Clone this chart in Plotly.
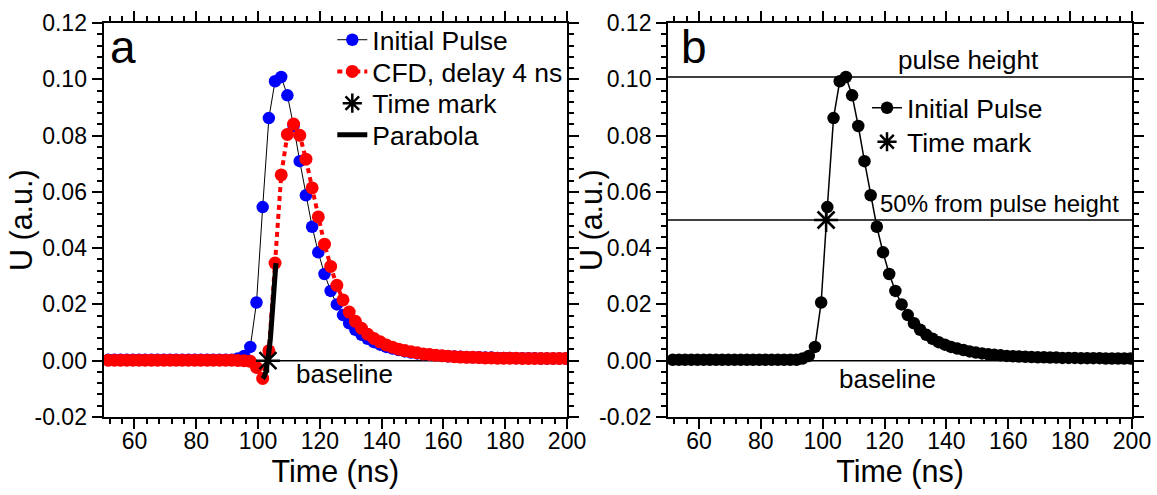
import plotly.graph_objects as go

# ---------------- data ----------------
time_ns = [51.5, 53.5, 55.5, 57.5, 59.5, 61.5, 63.5, 65.5, 67.5, 69.5,
           71.5, 73.5, 75.5, 77.5, 79.5, 81.5, 83.5, 85.5, 87.5, 89.5,
           91.5, 93.5, 95.5, 97.5, 99.5, 101.5, 103.5, 105.5, 107.5, 109.5,
           111.5, 113.5, 115.5, 117.5, 119.5, 121.5, 123.5, 125.5, 127.5, 129.5,
           131.5, 133.5, 135.5, 137.5, 139.5, 141.5, 143.5, 145.5, 147.5, 149.5,
           151.5, 153.5, 155.5, 157.5, 159.5, 161.5, 163.5, 165.5, 167.5, 169.5,
           171.5, 173.5, 175.5, 177.5, 179.5, 181.5, 183.5, 185.5, 187.5, 189.5,
           191.5, 193.5, 195.5, 197.5, 199.5]

initial_pulse = [0.0003, 0.0003, 0.0003, 0.0003, 0.0003, 0.0003, 0.0003, 0.0003, 0.0003, 0.0003,
                 0.0003, 0.0003, 0.0003, 0.0003, 0.0003, 0.0003, 0.0003, 0.0003, 0.0003, 0.0003,
                 0.0003, 0.0008, 0.0017, 0.0049, 0.0207, 0.0546, 0.0862, 0.0993, 0.1008, 0.0943,
                 0.0834, 0.0709, 0.0588, 0.0476, 0.0385, 0.0308, 0.0248, 0.0200, 0.0162, 0.0133,
                 0.0110, 0.0092, 0.0078, 0.0066, 0.0057, 0.0049, 0.0043, 0.0038, 0.0033, 0.0029,
                 0.0026, 0.0023, 0.0021, 0.0019, 0.0017, 0.0016, 0.0015, 0.0014, 0.0013, 0.0012,
                 0.0012, 0.0011, 0.0011, 0.0010, 0.0010, 0.0010, 0.0009, 0.0009, 0.0009, 0.0009,
                 0.0008, 0.0008, 0.0008, 0.0008, 0.0008]

cfd_delay4 = [0.0002, 0.0002, 0.0002, 0.0002, 0.0002, 0.0002, 0.0002, 0.0002, 0.0002, 0.0002,
              0.0002, 0.0002, 0.0002, 0.0002, 0.0002, 0.0002, 0.0002, 0.0002, 0.0002, 0.0002,
              0.0002, 0.0001, 0.0000, -0.0002, -0.0024, -0.0063, 0.0035, 0.0347, 0.0660, 0.0804,
              0.0841, 0.0801, 0.0716, 0.0614, 0.0511, 0.0414, 0.0335, 0.0268, 0.0216, 0.0173,
              0.0140, 0.0115, 0.0094, 0.0079, 0.0067, 0.0056, 0.0048, 0.0041, 0.0036, 0.0032,
              0.0028, 0.0024, 0.0022, 0.0019, 0.0018, 0.0016, 0.0014, 0.0013, 0.0012, 0.0012,
              0.0011, 0.0010, 0.0010, 0.0009, 0.0009, 0.0009, 0.0009, 0.0008, 0.0008, 0.0008,
              0.0008, 0.0008, 0.0008, 0.0008, 0.0008]

parabola_t = [101.5, 102.0, 102.5, 103.0, 103.5, 104.0, 104.5, 105.0, 105.5, 105.8]
parabola_u = [-0.0063, -0.0056, -0.0039, -0.0010, 0.0029, 0.0079, 0.0140, 0.0212, 0.0295, 0.0347]

time_mark_a_t = [103.2]
time_mark_a_u = [0.0]
time_mark_b_t = [101.1]
time_mark_b_u = [0.05]

pulse_height = 0.1008
half_height = 0.05
baseline_level = 0.0

x_range = [50, 200]
y_range = [-0.02, 0.12]
x_ticks = [60, 80, 100, 120, 140, 160, 180, 200]
y_ticks = [-0.02, 0.0, 0.02, 0.04, 0.06, 0.08, 0.10, 0.12]
y_ticklabels = ["-0.02", "0.00", "0.02", "0.04", "0.06", "0.08", "0.10", "0.12"]

# ---------------- layout constants ----------------
FONT = "Liberation Sans, Arial, sans-serif"
W, H = 1157, 495
M_T, M_B = 23, 78
PLOT_H = H - M_T - M_B


def px_x(px):
    return px / W


def px_y(py):
    return 1 - (py - M_T) / PLOT_H


LEG_FONT = 26.5
# (legend id, text-left pixel, row-centre pixel)
legend_slots = {
    "legend": (373.3, 42.0),
    "legend2": (373.3, 73.7),
    "legend3": (373.3, 105.4),
    "legend4": (373.3, 137.1),
    "legend5": (908.0, 110.0),
    "legend6": (908.0, 144.0),
}

fig = go.Figure()

# panel a
fig.add_trace(go.Scatter(x=time_ns, y=initial_pulse, mode="lines+markers", name="Initial Pulse",
                         line=dict(color="black", width=1),
                         marker=dict(color="#0000ff", size=12.5),
                         xaxis="x", yaxis="y", legend="legend"))
fig.add_trace(go.Scatter(x=time_ns, y=cfd_delay4, mode="lines+markers", name="CFD, delay 4 ns",
                         line=dict(color="#ff0000", width=4, dash="5px,4px"),
                         marker=dict(color="#ff0000", size=13),
                         xaxis="x", yaxis="y", legend="legend2"))
fig.add_trace(go.Scatter(x=parabola_t, y=parabola_u, mode="lines", name="Parabola",
                         line=dict(color="black", width=5),
                         xaxis="x", yaxis="y", legend="legend4"))
fig.add_trace(go.Scatter(x=time_mark_a_t, y=time_mark_a_u, mode="markers", name="Time mark",
                         marker=dict(symbol="asterisk-open", size=20, color="black",
                                     line=dict(color="black", width=2.5)),
                         xaxis="x", yaxis="y", legend="legend3"))

# panel b
fig.add_trace(go.Scatter(x=time_ns, y=initial_pulse, mode="lines+markers", name="Initial Pulse",
                         line=dict(color="black", width=1.5),
                         marker=dict(color="black", size=12.5),
                         xaxis="x2", yaxis="y2", legend="legend5"))
fig.add_trace(go.Scatter(x=time_mark_b_t, y=time_mark_b_u, mode="markers", name="Time mark",
                         marker=dict(symbol="asterisk-open", size=20, color="black",
                                     line=dict(color="black", width=2.5)),
                         xaxis="x2", yaxis="y2", legend="legend6"))

shapes = [
    dict(type="line", xref="x", yref="y", x0=100, x1=x_range[1], y0=baseline_level, y1=baseline_level,
         line=dict(color="black", width=1.5), layer="below"),
]
for lvl in (pulse_height, half_height, baseline_level):
    shapes.append(dict(type="line", xref="x2 domain", yref="y2", x0=0, x1=1, y0=lvl, y1=lvl,
                       line=dict(color="black", width=1.5), layer="below"))


def xaxis(domain, anchor):
    return dict(domain=domain, anchor=anchor, range=x_range, tickmode="array", tickvals=x_ticks,
                ticks="outside", ticklen=10, tickwidth=2, tickcolor="black",
                showline=True, linewidth=2, linecolor="black", mirror="ticks",
                minor=dict(tick0=0, dtick=4, ticks="outside", ticklen=5, tickwidth=2, tickcolor="black"),
                showgrid=False, zeroline=False, automargin=False, ticklabelstandoff=-8,
                tickfont=dict(size=23, color="black", family=FONT),
                title=dict(text="Time (ns)", font=dict(size=30.5, color="black", family=FONT), standoff=2))


def yaxis(anchor):
    return dict(domain=[0, 1], anchor=anchor, range=y_range, tickmode="array", tickvals=y_ticks,
                ticktext=y_ticklabels,
                ticks="outside", ticklen=10, tickwidth=2, tickcolor="black",
                showline=True, linewidth=2, linecolor="black", mirror="ticks",
                minor=dict(tick0=0, dtick=0.004, ticks="outside", ticklen=5, tickwidth=2, tickcolor="black"),
                showgrid=False, zeroline=False, automargin=False,
                tickfont=dict(size=23, color="black", family=FONT))


TXT = dict(color="black", family=FONT)
annotations = [
    # y-axis titles (placed beside the tick labels of each panel)
    dict(text="U (a.u.)", x=px_x(21), y=0.5, xref="paper", yref="paper", textangle=-90,
         xanchor="center", yanchor="middle", showarrow=False, font=dict(size=30.5, **TXT)),
    dict(text="U (a.u.)", x=px_x(591), y=0.5, xref="paper", yref="paper", textangle=-90,
         xanchor="center", yanchor="middle", showarrow=False, font=dict(size=30.5, **TXT)),
    dict(text="a", x=51.3, y=0.1115, xref="x", yref="y", xanchor="left", yanchor="middle",
         showarrow=False, font=dict(size=46, **TXT)),
    dict(text="b", x=53.4, y=0.1115, xref="x2", yref="y2", xanchor="left", yanchor="middle",
         showarrow=False, font=dict(size=46, **TXT)),
    dict(text="baseline", x=128.0, y=-0.0048, xref="x", yref="y", xanchor="center", yanchor="middle",
         showarrow=False, font=dict(size=26, **TXT)),
    dict(text="baseline", x=121.1, y=-0.0065, xref="x2", yref="y2", xanchor="center", yanchor="middle",
         showarrow=False, font=dict(size=26, **TXT)),
    dict(text="pulse height", x=147.2, y=0.1068, xref="x2", yref="y2", xanchor="center", yanchor="middle",
         showarrow=False, font=dict(size=26, **TXT)),
    dict(text="50% from pulse height", x=157.2, y=0.0560, xref="x2", yref="y2", xanchor="center",
         yanchor="middle", showarrow=False, font=dict(size=24, **TXT)),
]

legend_layout = {}
for lid, (text_left, row_y) in legend_slots.items():
    legend_layout[lid] = dict(x=px_x(text_left - 41), y=px_y(row_y - 2), xanchor="left", yanchor="middle",
                              bgcolor="rgba(0,0,0,0)", borderwidth=0,
                              font=dict(size=LEG_FONT, color="black", family=FONT),
                              itemsizing="trace")

fig.update_layout(
    width=W, height=H,
    margin=dict(l=0, r=0, t=M_T, b=M_B, autoexpand=False),
    paper_bgcolor="white", plot_bgcolor="white",
    font=dict(family=FONT, color="black"),
    xaxis=xaxis([0.0895, 0.4901], "y"),
    yaxis=yaxis("x"),
    xaxis2=xaxis([0.5774, 0.9784], "y2"),
    yaxis2=yaxis("x2"),
    shapes=shapes,
    annotations=annotations,
    showlegend=True,
    **legend_layout,
)

fig.write_html("out.html", config={"displayModeBar": False},
               post_script="document.body.style.margin='0';document.body.style.padding='0';")
